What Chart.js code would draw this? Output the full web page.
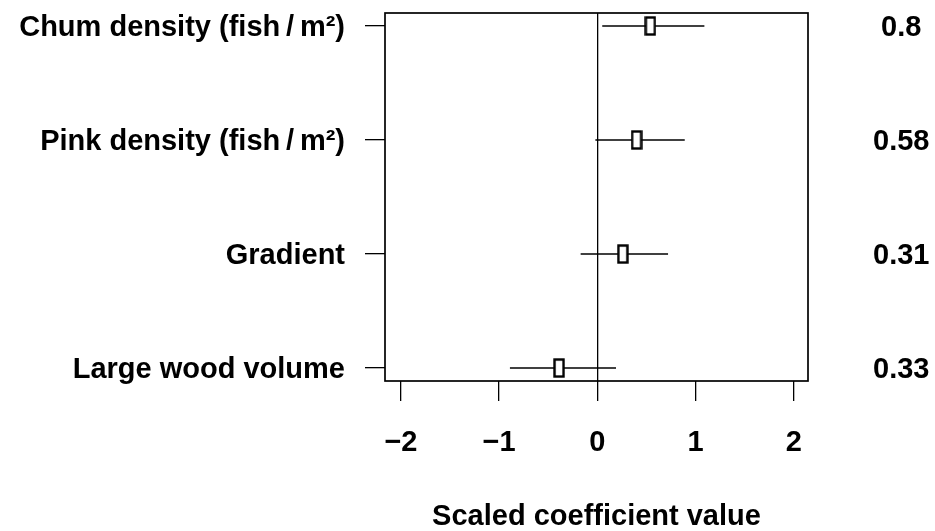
<!DOCTYPE html>
<html>
<head>
<meta charset="utf-8">
<script src="https://cdn.jsdelivr.net/npm/chart.js@4/dist/chart.umd.min.js"></script>
<style>
  html, body { margin: 0; padding: 0; background: #fff; }
  #wrap { width: 935px; height: 531px; }
</style>
</head>
<body>
<div id="wrap"><canvas id="forestChart" width="935" height="531"></canvas></div>
<script>
// Predictors, top to bottom
const predictors = ['Chum density (fish\u2009/\u2009m\u00B2)', 'Pink density (fish\u2009/\u2009m\u00B2)', 'Gradient', 'Large wood volume'];
const estimates = [0.54, 0.40, 0.26, -0.39];
const lowerCI = [0.05, -0.02, -0.17, -0.89];
const upperCI = [1.09, 0.89, 0.72, 0.19];
const importance = ['0.8', '0.58', '0.31', '0.33'];
const xTicks = [-2, -1, 0, 1, 2];

const FONT = "'Liberation Sans', Arial, sans-serif";
const n = predictors.length;
const rowPos = predictors.map((p, i) => n - i);   // 4,3,2,1

// box marker for the point estimate
const box = document.createElement('canvas');
box.width = 12; box.height = 20;
const bctx = box.getContext('2d');
bctx.fillStyle = '#fff';
bctx.fillRect(1, 1, 10, 18);
bctx.strokeStyle = '#000';
bctx.lineWidth = 2.4;
bctx.strokeRect(1.5, 1.5, 9, 17);

const ciSets = predictors.map((p, i) => ({
    type: 'line',
    data: [{ x: lowerCI[i], y: rowPos[i] }, { x: upperCI[i], y: rowPos[i] }],
    borderColor: '#000',
    borderWidth: 1.3,
    pointRadius: 0,
    order: 2
}));

const frame = {
    id: 'frame',
    afterDatasetsDraw(chart) {
        const { ctx, chartArea: a } = chart;
        ctx.save();
        ctx.strokeStyle = '#000';
        ctx.lineWidth = 1.7;
        ctx.strokeRect(a.left, a.top, a.right - a.left, a.bottom - a.top);
        ctx.restore();
    }
};

// vertical axes should not push the plot area down for their labels
const noVPad = (axis, w) => { axis.width = w; axis.paddingTop = 0; axis.paddingBottom = 0; };

const ctx = document.getElementById('forestChart').getContext('2d');
new Chart(ctx, {
    type: 'scatter',
    data: {
        datasets: [{
            data: estimates.map((v, i) => ({ x: v, y: rowPos[i] })),
            pointStyle: box,
            order: 1
        }, ...ciSets]
    },
    options: {
        responsive: false,
        animation: false,
        layout: { padding: { top: 13, left: 0, right: 0, bottom: 0 } },
        plugins: { legend: { display: false }, tooltip: { enabled: false } },
        scales: {
            x: {
                type: 'linear',
                min: -2.162,
                max: 2.145,
                afterBuildTicks: axis => { axis.ticks = xTicks.map(v => ({ value: v })); },
                afterFit: axis => { axis.height = 150; },
                grid: {
                    drawOnChartArea: true,
                    color: c => (c.tick && c.tick.value === 0) ? '#000' : 'rgba(0,0,0,0)',
                    lineWidth: 1.3,
                    tickColor: '#000',
                    tickLength: 20
                },
                border: { display: false },
                ticks: {
                    color: '#000',
                    padding: 25,
                    maxRotation: 0,
                    font: { family: FONT, size: 29, weight: 'bold' },
                    callback: v => String(v).replace('-', '\u2212')
                },
                title: {
                    display: true,
                    text: 'Scaled coefficient value',
                    color: '#000',
                    font: { family: FONT, size: 29, weight: 'bold', lineHeight: 0.8 },
                    padding: { top: 0, bottom: 2 }
                }
            },
            y: {
                type: 'linear',
                position: 'left',
                min: 0.886,
                max: 4.114,
                afterBuildTicks: axis => { axis.ticks = rowPos.map(v => ({ value: v })); },
                afterFit: axis => noVPad(axis, 385),
                grid: {
                    drawOnChartArea: false,
                    color: '#000',
                    tickColor: '#000',
                    lineWidth: 1.3,
                    tickLength: 20
                },
                border: { display: false },
                ticks: {
                    color: '#000',
                    padding: 20,
                    labelOffset: 2,
                    font: { family: FONT, size: 29, weight: 'bold' },
                    callback: v => predictors[n - v]
                }
            },
            y2: {
                type: 'linear',
                position: 'right',
                min: 0.886,
                max: 4.114,
                afterBuildTicks: axis => { axis.ticks = rowPos.map(v => ({ value: v })); },
                afterFit: axis => noVPad(axis, 127),
                grid: { display: false, drawTicks: false },
                border: { display: false },
                ticks: {
                    color: '#000',
                    padding: 65,
                    labelOffset: 2,
                    crossAlign: 'center',
                    font: { family: FONT, size: 29, weight: 'bold' },
                    callback: v => importance[n - v]
                }
            }
        }
    },
    plugins: [frame]
});
</script>
</body>
</html>
